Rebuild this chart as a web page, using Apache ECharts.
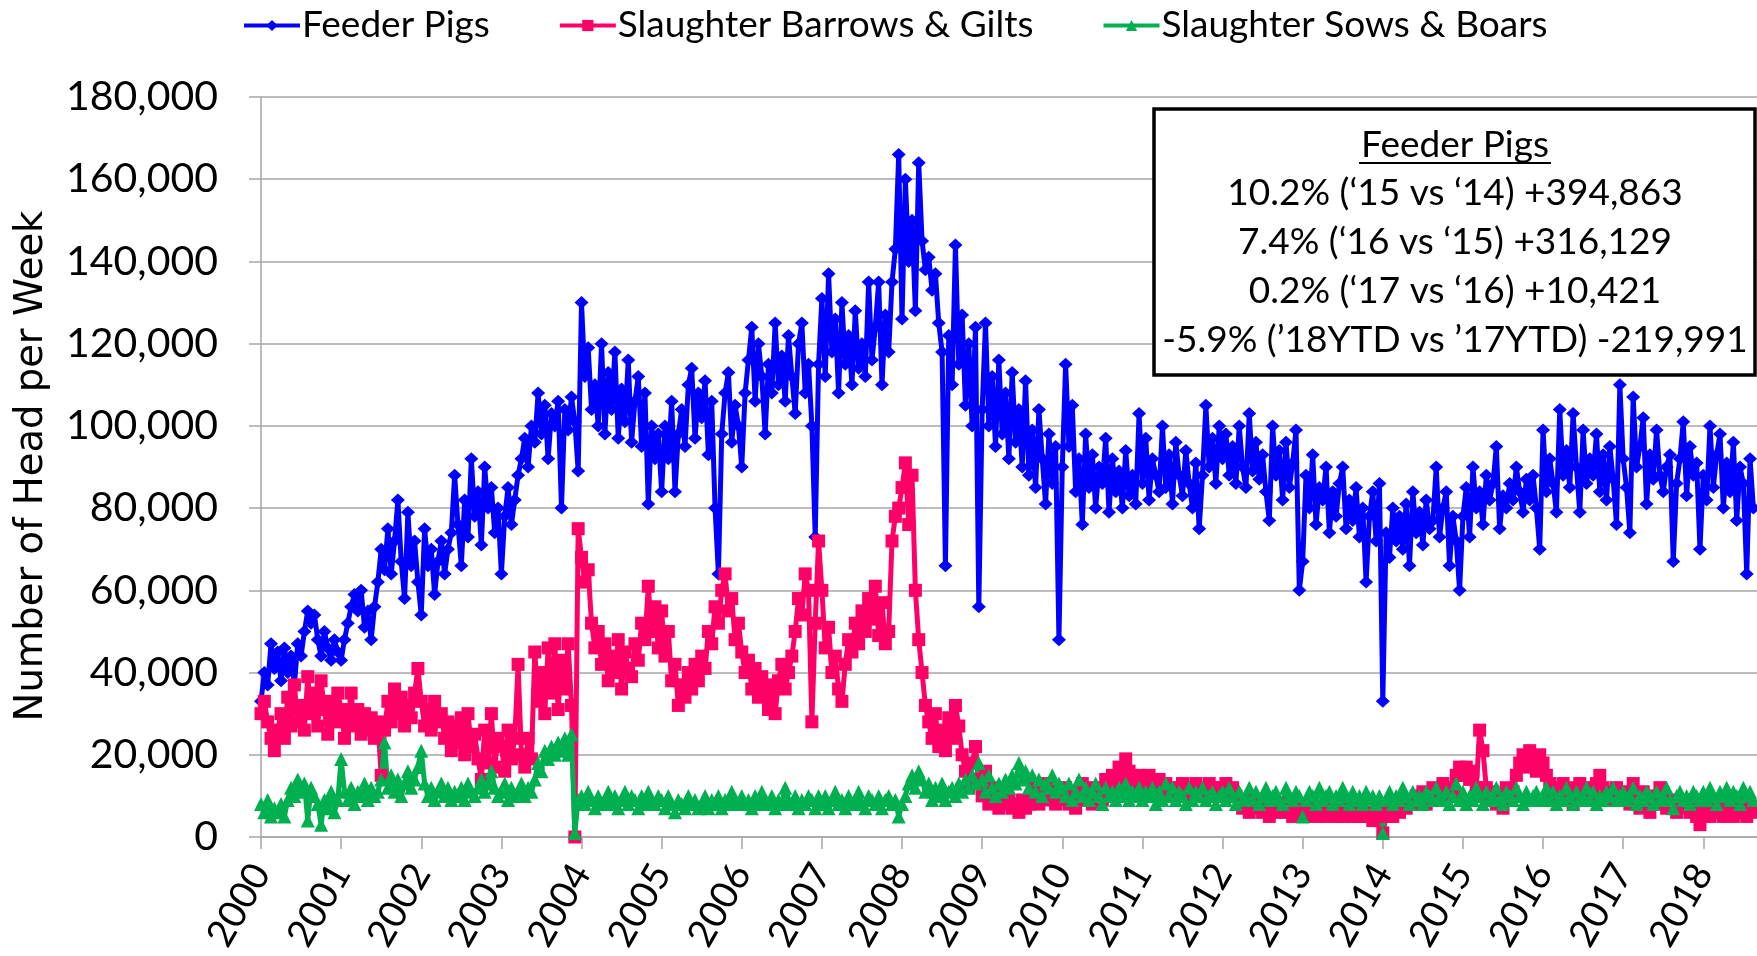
<!DOCTYPE html>
<html>
<head>
<meta charset="utf-8">
<script src="https://cdn.jsdelivr.net/npm/echarts@6/dist/echarts.min.js"></script>
<style>
  html, body { margin: 0; padding: 0; background: #fff; }
  #chart { width: 1757px; height: 956px; }
</style>
</head>
<body>
<div id="chart"></div>
<script>
var startYear = 2000;
var pointsPerYear = 24;
var yearTicks = [2000, 2001, 2002, 2003, 2004, 2005, 2006, 2007, 2008, 2009,
  2010, 2011, 2012, 2013, 2014, 2015, 2016, 2017, 2018];

var feederPigs = [
  33, 40, 37, 47, 41, 45, 38, 46, 40, 44, 37, 47, 44, 50, 55, 52, 54, 48, 44, 50, 46, 43, 48, 45,
  43, 48, 52, 56, 59, 55, 60, 51, 55, 48, 56, 62, 70, 65, 75, 64, 72, 82, 67, 58, 79, 66, 72, 62,
  54, 75, 66, 70, 59, 67, 72, 64, 70, 74, 88, 76, 66, 82, 73, 92, 78, 84, 71, 90, 80, 85, 74, 80,
  64, 78, 85, 76, 82, 88, 92, 97, 90, 100, 96, 108, 98, 105, 92, 103, 100, 106, 80, 104, 99, 107, 101, 89,
  130, 112, 119, 104, 110, 100, 120, 98, 113, 104, 118, 97, 109, 101, 116, 96, 106, 112, 95, 108, 81, 100, 92, 98,
  84, 100, 92, 106, 84, 98, 104, 95, 110, 114, 97, 108, 102, 111, 93, 106, 80, 64, 98, 108, 113, 96, 105, 100,
  90, 108, 116, 124, 106, 120, 112, 98, 115, 108, 125, 110, 117, 106, 122, 112, 103, 120, 125, 108, 115, 100, 73, 115,
  131, 112, 137, 118, 126, 108, 130, 115, 122, 110, 128, 114, 120, 112, 135, 116, 124, 135, 110, 127, 118, 135, 143, 166,
  126, 160, 140, 150, 128, 164, 145, 138, 141, 133, 137, 125, 118, 66, 122, 110, 144, 115, 127, 105, 120, 100, 124, 56,
  104, 125, 100, 112, 95, 116, 98, 108, 92, 113, 96, 104, 90, 111, 88, 99, 85, 104, 92, 81, 98, 86, 95, 48,
  90, 115, 95, 105, 84, 92, 76, 98, 85, 93, 80, 90, 86, 97, 79, 92, 84, 89, 80, 94, 83, 88, 81, 103,
  86, 97, 82, 92, 88, 84, 100, 85, 93, 81, 96, 88, 83, 94, 86, 80, 91, 75, 88, 105, 90, 97, 86, 100,
  92, 98, 88, 95, 86, 100, 90, 85, 103, 89, 96, 87, 93, 84, 77, 100, 88, 94, 82, 96, 85, 91, 99, 60,
  67, 88, 80, 93, 76, 85, 82, 90, 74, 84, 78, 86, 90, 75, 82, 77, 85, 73, 80, 62, 78, 84, 72, 86,
  33, 74, 68, 80, 72, 78, 70, 81, 66, 84, 74, 79, 71, 82, 75, 77, 90, 73, 80, 84, 66, 78, 72, 60,
  78, 85, 73, 90, 80, 84, 76, 88, 82, 86, 95, 75, 83, 80, 86, 82, 90, 84, 79, 87, 82, 88, 80, 70,
  99, 84, 92, 86, 79, 104, 88, 94, 85, 103, 90, 79, 99, 86, 92, 88, 98, 84, 93, 82, 95, 87, 76, 110,
  92, 85, 74, 107, 90, 95, 102, 81, 93, 87, 99, 88, 84, 90, 93, 67, 86, 92, 101, 83, 95, 88, 91, 70,
  88, 82, 100, 85, 93, 98, 80, 91, 84, 96, 77, 90, 86, 64, 92, 80
];

var barrowsGilts = [
  30, 33, 28, 24, 21, 26, 30, 24, 34, 27, 37, 28, 32, 26, 39, 30, 35, 27, 38, 31, 25, 33, 28, 35,
  31, 24, 29, 35, 27, 31, 25, 30, 26, 29, 24, 28, 15, 26, 33, 28, 36, 30, 34, 27, 32, 29, 35, 41,
  33, 27, 31, 26, 33, 28, 30, 24, 28, 21, 27, 23, 29, 20, 30, 22, 25, 19, 14, 26, 18, 30, 17, 24,
  22, 16, 26, 19, 24, 42, 20, 17, 24, 19, 45, 33, 40, 30, 46, 35, 47, 31, 43, 36, 47, 32, 0, 75,
  68, 62, 65, 52, 46, 50, 42, 47, 38, 44, 40, 48, 36, 45, 41, 39, 47, 43, 52, 48, 61, 50, 56, 46,
  55, 44, 50, 38, 42, 32, 37, 34, 40, 36, 42, 38, 44, 41, 50, 47, 56, 52, 60, 64, 55, 58, 48, 52,
  45, 40, 43, 36, 41, 34, 39, 35, 31, 37, 30, 38, 42, 36, 40, 44, 50, 58, 54, 64, 60, 28, 52, 72,
  60, 46, 51, 40, 44, 36, 33, 42, 48, 45, 52, 47, 55, 50, 58, 53, 61, 49, 57, 47, 50, 72, 78, 80,
  85, 91, 76, 88, 60, 48, 40, 32, 28, 24, 30, 22, 26, 21, 29, 24, 32, 27, 20, 16, 12, 18, 22, 14,
  10, 16, 8, 12, 9, 7, 10, 8, 9, 7, 8, 6, 9, 7, 8, 10, 12, 8, 10, 13, 9, 11, 8, 10,
  9, 12, 8, 10, 7, 11, 13, 9, 12, 8, 10, 12, 9, 14, 11, 15, 13, 17, 14, 19, 16, 14, 12, 15,
  14, 12, 15, 13, 12, 14, 11, 13, 12, 10, 12, 11, 13, 12, 10, 12, 13, 11, 12, 10, 13, 11, 12, 10,
  12, 13, 11, 12, 10, 8, 7, 9, 6, 8, 7, 9, 6, 8, 5, 7, 6, 8, 7, 6, 8, 5, 7, 6,
  6, 5, 7, 6, 5, 7, 6, 5, 6, 7, 5, 6, 5, 7, 6, 5, 6, 5, 7, 5, 6, 4, 5, 6,
  1, 5, 6, 5, 7, 6, 8, 7, 9, 8, 10, 9, 11, 8, 10, 12, 9, 11, 13, 10, 12, 11, 15, 17,
  15, 17, 14, 16, 12, 26, 21, 12, 9, 11, 8, 10, 7, 12, 9, 11, 15, 18, 20, 17, 21, 19, 16, 20,
  18, 15, 13, 11, 12, 9, 13, 10, 12, 8, 11, 13, 10, 12, 9, 11, 13, 15, 12, 10, 11, 9, 12, 10,
  9, 11, 8, 13, 10, 7, 11, 9, 6, 10, 8, 12, 9, 7, 9, 8, 6, 8, 7, 9, 6, 8, 5, 3,
  6, 8, 5, 7, 6, 8, 5, 7, 6, 5, 7, 6, 8, 5, 7, 6
];

var sowsBoars = [
  8, 6, 9, 5, 7, 6, 8, 5, 9, 12, 10, 14, 11, 13, 4, 12, 10, 8, 3, 9, 7, 11, 6, 9,
  19, 11, 9, 12, 8, 11, 10, 13, 9, 12, 10, 11, 14, 23, 12, 15, 11, 14, 10, 13, 16, 12, 14, 17,
  21, 13, 10, 12, 9, 11, 13, 10, 12, 9, 11, 10, 12, 9, 13, 11, 10, 12, 14, 11, 13, 16, 12, 10,
  11, 13, 9, 12, 10, 11, 13, 10, 12, 11, 14, 18, 16, 21, 19, 22, 20, 23, 21, 24, 20, 25, 1, 9,
  10, 8, 11, 9, 7, 10, 8, 9, 11, 8, 10, 7, 9, 11, 8, 10, 9, 7, 10, 8, 11, 9, 8, 10,
  9, 7, 10, 8, 6, 9, 8, 7, 10, 8, 9, 7, 8, 10, 7, 9, 8, 10, 7, 9, 8, 11, 9, 8,
  10, 8, 9, 7, 10, 8, 11, 9, 8, 10, 7, 9, 8, 12, 9, 8, 10, 7, 9, 8, 10, 9, 7, 10,
  8, 10, 7, 9, 11, 8, 9, 7, 10, 8, 9, 11, 8, 7, 10, 9, 8, 10, 7, 9, 10, 8, 9, 5,
  8, 10, 13, 15, 12, 16, 14, 11, 13, 9, 12, 10, 13, 9, 11, 12, 10, 13, 11, 14, 12, 15, 13, 18,
  14, 11, 15, 12, 10, 13, 11, 14, 12, 15, 13, 18, 14, 16, 12, 15, 11, 14, 10, 13, 12, 15, 11, 13,
  12, 10, 13, 9, 11, 14, 10, 12, 9, 11, 13, 10, 8, 12, 10, 11, 9, 12, 10, 13, 9, 11, 10, 12,
  9, 11, 10, 12, 8, 11, 9, 13, 10, 12, 9, 11, 10, 8, 12, 9, 11, 10, 12, 9, 10, 11, 8, 10,
  11, 9, 12, 10, 8, 11, 9, 10, 12, 9, 11, 8, 10, 12, 9, 10, 11, 9, 8, 12, 10, 9, 11, 10,
  5, 9, 11, 10, 8, 12, 9, 10, 11, 8, 10, 9, 12, 10, 8, 11, 9, 10, 8, 11, 9, 10, 8, 10,
  1, 9, 11, 8, 10, 9, 12, 10, 8, 11, 9, 10, 8, 11, 10, 9, 12, 10, 9, 11, 8, 10, 13, 9,
  11, 8, 10, 9, 12, 10, 8, 11, 9, 10, 12, 9, 8, 11, 10, 9, 12, 10, 8, 11, 9, 10, 11, 9,
  10, 12, 9, 11, 8, 10, 9, 12, 10, 8, 11, 9, 10, 12, 9, 11, 8, 10, 9, 11, 10, 12, 9, 10,
  11, 9, 10, 12, 8, 10, 9, 11, 10, 8, 11, 9, 10, 12, 9, 7, 10, 11, 9, 10, 8, 11, 10, 9,
  11, 9, 12, 10, 8, 11, 10, 12, 9, 11, 10, 8, 12, 10, 11, 9
];

var seriesNames = ['Feeder Pigs', 'Slaughter Barrows & Gilts', 'Slaughter Sows & Boars'];
var seriesColors = ['#0000FF', '#FF0066', '#00B050'];

var noteTitle = 'Feeder Pigs';
var noteLines = [
  '10.2% (\u201815 vs \u201814) +394,863',
  '7.4% (\u201816 vs \u201815) +316,129',
  '0.2% (\u201817 vs \u201816) +10,421',
  '-5.9% (\u201918YTD vs \u201917YTD) -219,991'
];

var FONT = 'Lato, "Liberation Sans", sans-serif';
var LINE_WIDTH = 5;

function toPoints(vals) {
  return vals.map(function (v, i) {
    return [startYear + i / pointsPerYear, v * 1000];
  });
}

var chart = echarts.init(document.getElementById('chart'));

function lineSeries(idx, vals, symbol, size) {
  return {
    name: seriesNames[idx],
    type: 'line',
    data: toPoints(vals),
    symbol: symbol,
    symbolSize: size,
    clip: false,
    z: 2,
    lineStyle: { color: seriesColors[idx], width: LINE_WIDTH },
    itemStyle: { color: seriesColors[idx], borderWidth: 0 },
    emphasis: { disabled: true }
  };
}

chart.setOption({
  animation: false,
  backgroundColor: '#fff',
  legend: {
    data: seriesNames,
    left: 237,
    top: 2,
    itemWidth: 56,
    itemHeight: 14,
    itemGap: 68,
    lineStyle: { width: 4 },
    textStyle: { fontSize: 37, fontFamily: FONT, color: '#000', padding: [0, 0, 0, -3] }
  },
  grid: { left: 261, right: 0, top: 97, bottom: 119 },
  xAxis: {
    type: 'value',
    min: 2000,
    max: 2018.67,
    interval: 1,
    axisLine: { show: true, onZero: true, lineStyle: { color: '#a6a6a6', width: 1.5 } },
    axisTick: { show: true, length: 12, customValues: yearTicks, lineStyle: { color: '#a6a6a6', width: 1.5 } },
    splitLine: { show: false },
    axisLabel: {
      rotate: 60,
      margin: 30,
      fontSize: 38,
      fontFamily: FONT,
      color: '#000',
      customValues: yearTicks,
      formatter: function (v) { return Math.abs(v - Math.round(v)) < 1e-6 ? String(Math.round(v)) : ''; }
    }
  },
  yAxis: {
    type: 'value',
    min: 0,
    max: 180000,
    interval: 20000,
    axisLine: { show: true, lineStyle: { color: '#a6a6a6', width: 1.5 } },
    axisTick: { show: true, length: 12, lineStyle: { color: '#a6a6a6', width: 1.5 } },
    splitLine: { show: true, lineStyle: { color: '#a6a6a6', width: 1.5 } },
    axisLabel: {
      margin: 43,
      fontSize: 41,
      fontFamily: FONT,
      color: '#000',
      formatter: function (v) { return v.toLocaleString('en-US'); }
    }
  },
  series: [
    lineSeries(0, feederPigs, 'diamond', [14, 13]),
    lineSeries(1, barrowsGilts, 'rect', 13),
    lineSeries(2, sowsBoars, 'triangle', 14)
  ]
});

// axis title and the feeder pig box go on in a second pass
var noteFont = '37px ' + FONT;
var noteTexts = [{
  type: 'text',
  x: 1455, y: 145,
  style: { text: noteTitle, font: noteFont, fill: '#000', align: 'center', verticalAlign: 'middle' }
}, {
  type: 'line',
  shape: { x1: 1359, y1: 163, x2: 1551, y2: 163 },
  style: { stroke: '#000', lineWidth: 2 }
}];
noteLines.forEach(function (t, i) {
  noteTexts.push({
    type: 'text',
    x: 1455, y: 193 + i * 49,
    style: { text: t, font: noteFont, fill: '#000', align: 'center', verticalAlign: 'middle' }
  });
});

chart.setOption({
  graphic: [{
    type: 'text',
    x: 32, y: 466,
    rotation: Math.PI / 2,
    style: {
      text: 'Number of Head per Week',
      font: '38.5px "DejaVu Sans", sans-serif',
      fill: '#000',
      align: 'center', verticalAlign: 'middle'
    }
  }, {
    type: 'group',
    z: 100,
    children: [{
      type: 'rect',
      shape: { x: 1154, y: 109, width: 601, height: 266 },
      style: { fill: '#fff', stroke: '#000', lineWidth: 3.5 }
    }].concat(noteTexts)
  }]
});

// the dense lines came out thin in earlier runs, so set the width on the drawn polylines again
var zr = chart.getZr();
zr.storage.getDisplayList(true).forEach(function (el) {
  if (el.type === 'ec-polyline') {
    el.setStyle('lineWidth', LINE_WIDTH);
  }
});
zr.refreshImmediately();
</script>
</body>
</html>
